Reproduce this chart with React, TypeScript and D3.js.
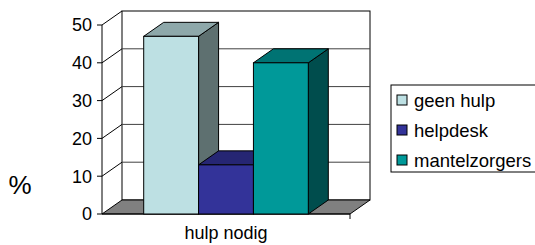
import React from "react";
import * as d3 from "d3";

// chart values
const categories = ["hulp nodig"];
const seriesNames = ["geen hulp", "helpdesk", "mantelzorgers"];
const seriesValues = [47, 13, 40];
const yTicks = [0, 10, 20, 30, 40, 50];

const frontColors = ["#BDE0E3", "#333399", "#009999"];
const topColors = ["#8EA8AA", "#262673", "#007373"];
const sideColors = ["#5E7070", "#1A1A4D", "#004D4D"];

const W = 535;
const H = 245;
const DX = 20;
const DY = -14;

export default function App() {
  const x0 = 102;
  const x1 = 350;
  const y = d3.scaleLinear().domain([0, 50]).range([214, 25]);
  const catScale = d3.scaleBand().domain(categories).range([x0, x1]).padding(0);
  const barScale = d3
    .scaleBand()
    .domain(seriesNames)
    .range([0, catScale.bandwidth()])
    .paddingOuter(0.76)
    .paddingInner(0);

  const pts = (a: number[][]) => a.map((p) => p.join(",")).join(" ");
  const font = "Arial, 'Liberation Sans', sans-serif";

  return (
    <svg
      width={W}
      height={H}
      style={{ position: "absolute", left: 0, top: 0, background: "#fff" }}
      fontFamily={font}
    >
      {/* back wall */}
      <rect
        x={x0 + DX}
        y={y(50) + DY}
        width={x1 - x0}
        height={y(0) - y(50)}
        fill="#fff"
        stroke="#000"
      />
      {yTicks.slice(1, -1).map((t) => (
        <line
          key={"g" + t}
          x1={x0 + DX}
          x2={x1 + DX}
          y1={y(t) + DY}
          y2={y(t) + DY}
          stroke="#404040"
        />
      ))}
      {/* side wall diagonals */}
      {yTicks.slice(1).map((t) => (
        <line
          key={"d" + t}
          x1={x0}
          x2={x0 + DX}
          y1={y(t)}
          y2={y(t) + DY}
          stroke="#000"
        />
      ))}
      {/* floor */}
      <polygon
        points={pts([
          [x0, y(0)],
          [x1, y(0)],
          [x1 + DX, y(0) + DY],
          [x0 + DX, y(0) + DY],
        ])}
        fill="#808080"
        stroke="#000"
      />
      {/* axes */}
      <line x1={x0} x2={x0} y1={y(50)} y2={y(0)} stroke="#000" />
      <line x1={x0} x2={x1} y1={y(0)} y2={y(0)} stroke="#000" />
      <line x1={x1} x2={x1} y1={y(0)} y2={y(0) + 5} stroke="#000" />
      {yTicks.map((t) => (
        <g key={"t" + t}>
          <line x1={x0 - 5} x2={x0} y1={y(t)} y2={y(t)} stroke="#000" />
          <text
            x={x0 - 10}
            y={y(t)}
            dy="0.36em"
            textAnchor="end"
            fontSize={18}
          >
            {t}
          </text>
        </g>
      ))}
      {/* bars */}
      {seriesNames.map((s, i) => {
        const bx = (catScale(categories[0]) ?? 0) + (barScale(s) ?? 0);
        const bw = barScale.bandwidth();
        const top = y(seriesValues[i]);
        const bottom = y(0);
        return (
          <g key={s} stroke="#000" strokeWidth={1}>
            <polygon
              points={pts([
                [bx + bw, top],
                [bx + bw + DX, top + DY],
                [bx + bw + DX, bottom + DY],
                [bx + bw, bottom],
              ])}
              fill={sideColors[i]}
            />
            <polygon
              points={pts([
                [bx, top],
                [bx + DX, top + DY],
                [bx + bw + DX, top + DY],
                [bx + bw, top],
              ])}
              fill={topColors[i]}
            />
            <rect x={bx} y={top} width={bw} height={bottom - top} fill={frontColors[i]} />
          </g>
        );
      })}
      {/* category label */}
      <text x={(x0 + x1) / 2} y={239} textAnchor="middle" fontSize={18}>
        {categories[0]}
      </text>
      {/* y title */}
      <text x={20} y={185} dy="0.36em" textAnchor="middle" fontSize={26}>
        %
      </text>
      {/* legend */}
      <rect x={391} y={85} width={160} height={87} fill="#fff" stroke="#000" />
      {seriesNames.map((s, i) => (
        <g key={"l" + s} transform={`translate(397, ${100 + i * 30})`}>
          <rect x={0} y={-5} width={10} height={10} fill={frontColors[i]} stroke="#000" />
          <text x={17} y={0} dy="0.36em" fontSize={18.5}>
            {s}
          </text>
        </g>
      ))}
    </svg>
  );
}
